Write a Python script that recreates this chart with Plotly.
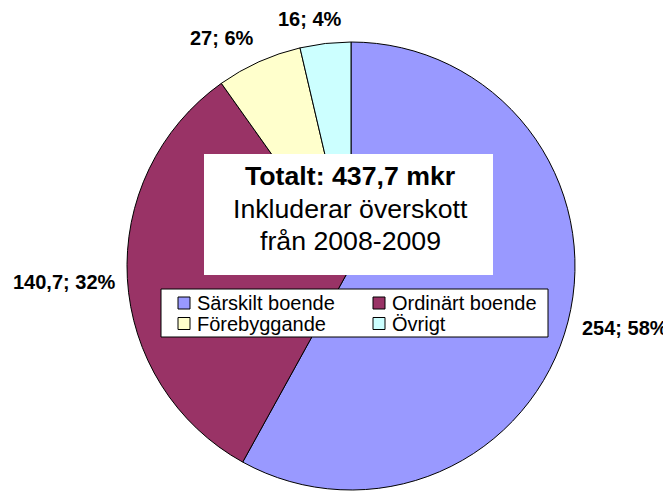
import plotly.graph_objects as go

# The page body adds an 8px margin, so the figure is drawn 8px smaller
# and positions are offset accordingly.
OFF = 8
W, H = 671 - OFF, 491 - OFF

categories = ["Särskilt boende", "Ordinärt boende", "Förebyggande", "Övrigt"]
values = [254, 140.7, 27, 16]
colors = ["#9999FF", "#993366", "#FFFFCC", "#CCFFFF"]
title_lines = ["<b>Totalt: 437,7 mkr</b>", "Inkluderar överskott", "från 2008-2009"]

total = sum(values)


def fmt(v):
    return f"{v:g}".replace(".", ",")


label_texts = [f"<b>{fmt(v)}; {round(v / total * 100)}%</b>" for v in values]
# label centres in page pixels (x, y from top)
label_pos = [(625, 328), (64, 282), (222, 38), (310, 19)]


def px(x):
    return (x - OFF) / W


def py(y):
    return 1 - (y - OFF) / H


FONT = "Arial, Liberation Sans"
cx, cy, r = 351, 266, 224

fig = go.Figure(
    go.Pie(
        labels=categories,
        values=values,
        sort=False,
        direction="clockwise",
        rotation=0,
        marker=dict(colors=colors, line=dict(color="black", width=1)),
        textinfo="none",
        hoverinfo="label+value+percent",
        showlegend=False,
        domain=dict(x=[px(cx - r), px(cx + r)], y=[py(cy + r), py(cy - r)]),
    )
)

annotations = []
shapes = []
for t, (x, y) in zip(label_texts, label_pos):
    annotations.append(
        dict(
            text=t, x=px(x), y=py(y), xref="paper", yref="paper",
            xanchor="center", yanchor="middle", showarrow=False,
            font=dict(family=FONT, size=20, color="black"),
        )
    )

# white centre box with total
shapes.append(
    dict(type="rect", xref="paper", yref="paper",
         x0=px(204), x1=px(493), y0=py(275), y1=py(154),
         fillcolor="white", line=dict(width=0), layer="above")
)
for t, y in zip(title_lines, [176, 209, 241]):
    annotations.append(
        dict(
            text=t, x=px(350), y=py(y), xref="paper", yref="paper",
            xanchor="center", yanchor="middle", showarrow=False,
            font=dict(family=FONT, size=26.7, color="black"),
        )
    )

# legend box (2 columns x 2 rows)
shapes.append(
    dict(type="rect", xref="paper", yref="paper",
         x0=px(161), x1=px(548), y0=py(337), y1=py(289),
         fillcolor="white", line=dict(color="black", width=1), layer="above")
)
col_x = [178, 373]
row_y = [303, 323.5]
for i, (name, col) in enumerate(zip(categories, colors)):
    mx = col_x[i % 2]
    my = row_y[i // 2]
    shapes.append(
        dict(type="rect", xref="paper", yref="paper",
             x0=px(mx), x1=px(mx + 12), y0=py(my + 6), y1=py(my - 6),
             fillcolor=col, line=dict(color="black", width=1), layer="above")
    )
    annotations.append(
        dict(
            text=name, x=px(mx + 17), y=py(my), xref="paper", yref="paper",
            xanchor="left", yanchor="middle", showarrow=False,
            font=dict(family=FONT, size=20, color="black"),
        )
    )

fig.update_layout(
    width=W, height=H,
    margin=dict(l=0, r=0, t=0, b=0),
    paper_bgcolor="white", plot_bgcolor="white",
    shapes=shapes,
    annotations=annotations,
    showlegend=False,
)

fig.write_html("out.html")
